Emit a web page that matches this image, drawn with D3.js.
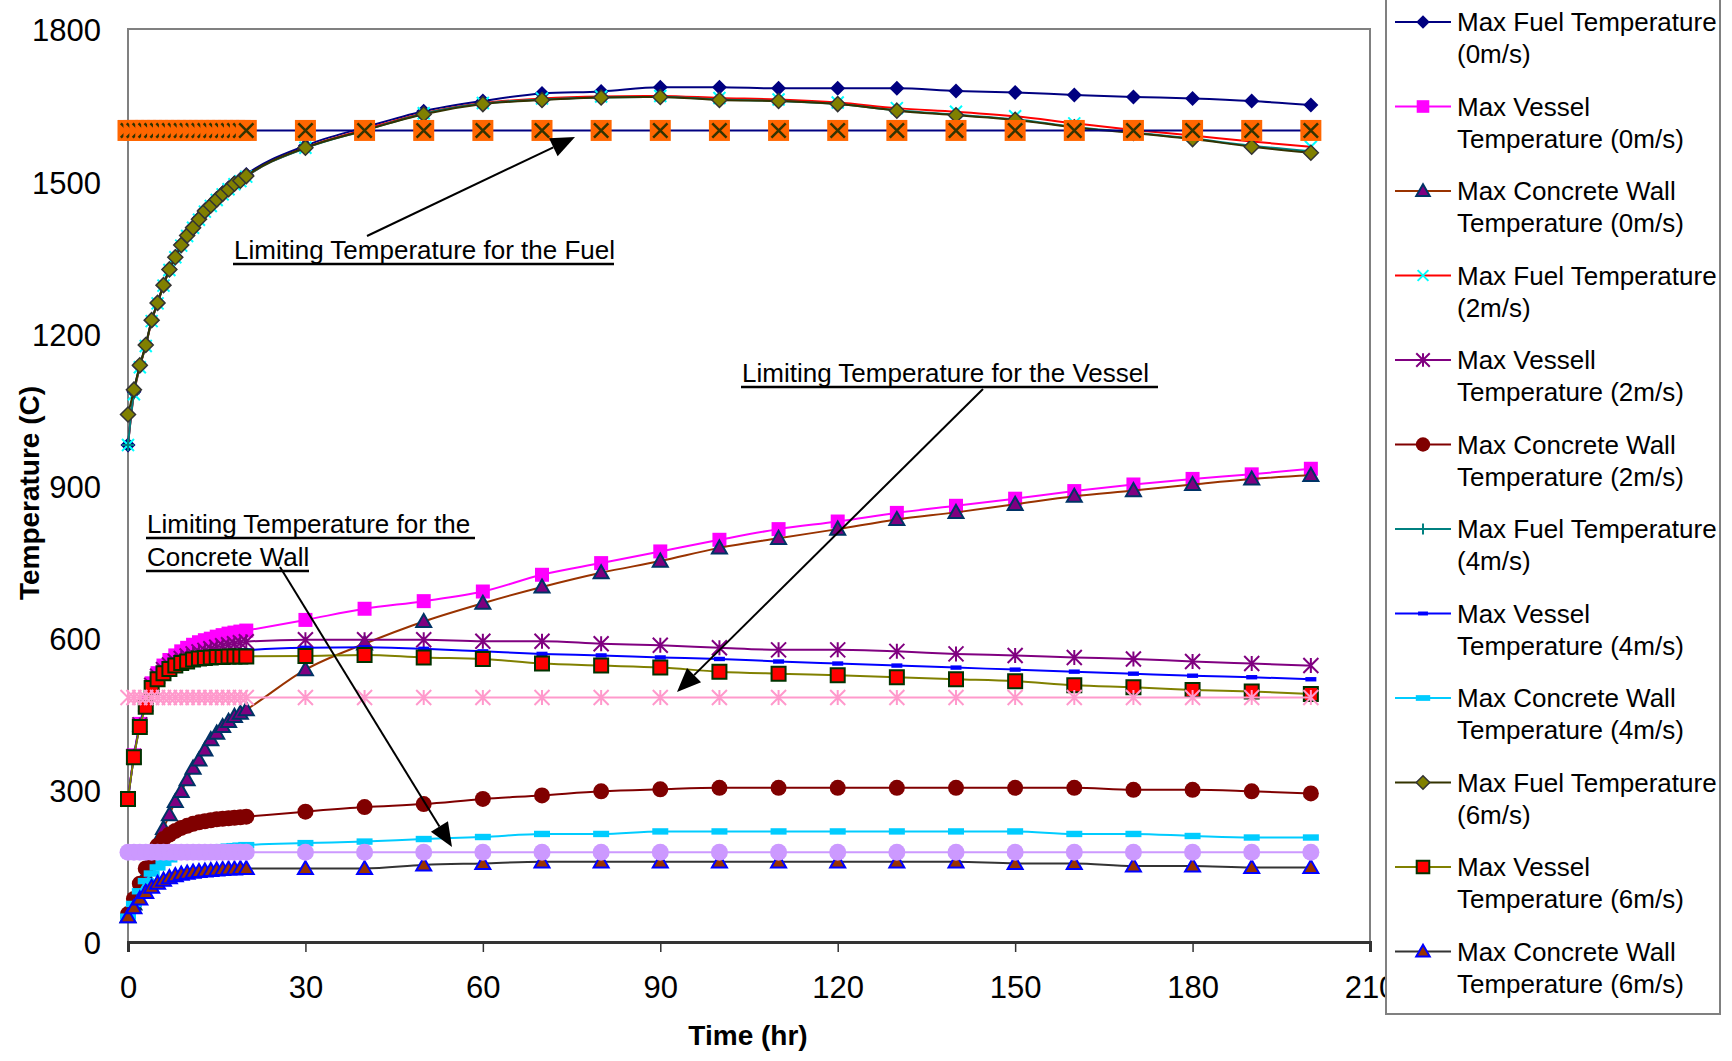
<!DOCTYPE html>
<html>
<head>
<meta charset="utf-8">
<style>
  body { margin: 0; background: #fff; }
  svg { font-family: "Liberation Sans", Arial, sans-serif; }
</style>
</head>
<body>
<svg width="1732" height="1061"></svg>
<script src="https://cdnjs.cloudflare.com/ajax/libs/d3/7.8.5/d3.min.js"></script>
<script>
// hours: 1 h steps for the first 20 h, then every 10 h
var time = [0,1,2,3,4,5,6,7,8,9,10,11,12,13,14,15,16,17,18,19,20,30,40,50,60,70,80,90,100,110,120,130,140,150,160,170,180,190,200];

var fuel0 = [980,1085,1135,1178,1226,1261,1296,1327,1351,1375,1394,1410,1427,1443,1454,1466,1477,1487,1497,1504,1513,1570,1606,1638,1658,1673,1677,1685,1685,1683,1683,1683,1678,1675,1670,1666,1663,1658,1650];
var vessel0 = [282,368,430,472,510,530,545,556,565,573,580,586,591,595,598,602,605,608,610,612,614,635,657,672,691,724,747,770,793,814,829,846,860,874,889,902,913,922,933];
var concrete0 = [50,75,102,132,165,198,224,251,277,297,320,343,359,379,399,412,425,435,445,451,458,537,588,632,668,700,728,751,777,796,814,833,847,863,879,890,902,913,920];

var fuel2 = [980,1080,1133,1175,1224,1259,1294,1325,1350,1373,1392,1408,1424,1440,1451,1463,1474,1484,1494,1500,1509,1566,1602,1634,1654,1663,1667,1668,1664,1661,1655,1644,1637,1628,1614,1601,1590,1578,1568];
var vessel2 = [282,366,428,469,506,524,537,546,553,559,564,568,572,575,578,581,584,586,588,590,592,596,596,596,593,593,588,585,580,576,576,573,568,565,561,558,553,549,545];
var concrete2 = [55,85,115,145,170,190,203,212,219,225,229,233,236,238,240,242,243,244,245,246,247,257,266,272,282,289,297,301,304,304,304,304,304,304,304,300,300,297,293];

var fuel4 = [980,1082,1134,1176,1225,1259,1294,1325,1349,1373,1392,1408,1424,1440,1451,1463,1474,1483,1494,1500,1509,1565,1600,1633,1653,1661,1665,1666,1661,1658,1652,1640,1631,1622,1607,1596,1584,1570,1559];
var vessel4 = [282,365,426,467,503,521,533,541,548,553,557,561,564,566,568,570,571,572,573,574,575,580,581,578,573,568,565,561,558,553,549,545,541,537,533,529,525,522,518];
var concrete4 = [50,75,100,120,135,147,156,163,168,172,176,179,181,183,185,186,187,188,189,190,191,195,198,203,207,213,213,218,218,218,218,218,218,218,213,213,209,206,206];

var fuel6 = [1040,1089,1137,1177,1226,1260,1295,1326,1350,1374,1393,1408,1425,1441,1452,1464,1475,1484,1495,1501,1510,1566,1600,1632,1652,1660,1665,1666,1660,1658,1652,1639,1630,1621,1606,1595,1583,1568,1556];
var vessel6 = [282,364,424,464,501,518,530,538,545,550,553,557,559,560,561,562,562,563,563,563,563,564,566,561,558,549,545,541,533,529,526,522,518,514,506,502,497,494,489];
var concrete6 = [50,68,85,98,108,116,122,127,131,134,136,138,139,140,141,142,143,144,144,145,145,145,145,152,155,158,158,158,158,158,158,158,158,155,155,150,150,147,147];

// limiting temperatures (not in the legend)
var fuelLimit = [1600,1600,1600,1600,1600,1600,1600,1600,1600,1600,1600,1600,1600,1600,1600,1600,1600,1600,1600,1600,1600,1600,1600,1600,1600,1600,1600,1600,1600,1600,1600,1600,1600,1600,1600,1600,1600,1600,1600];
var vesselLimit = [482,482,482,482,482,482,482,482,482,482,482,482,482,482,482,482,482,482,482,482,482,482,482,482,482,482,482,482,482,482,482,482,482,482,482,482,482,482,482];
var concreteLimit = [177,177,177,177,177,177,177,177,177,177,177,177,177,177,177,177,177,177,177,177,177,177,177,177,177,177,177,177,177,177,177,177,177,177,177,177,177,177,177];

var seriesNames = [
  ["Max Fuel Temperature", "(0m/s)"],
  ["Max Vessel", "Temperature (0m/s)"],
  ["Max Concrete Wall", "Temperature (0m/s)"],
  ["Max Fuel Temperature", "(2m/s)"],
  ["Max Vessell", "Temperature (2m/s)"],
  ["Max Concrete Wall", "Temperature (2m/s)"],
  ["Max Fuel Temperature", "(4m/s)"],
  ["Max Vessel", "Temperature (4m/s)"],
  ["Max Concrete Wall", "Temperature (4m/s)"],
  ["Max Fuel Temperature", "(6m/s)"],
  ["Max Vessel", "Temperature (6m/s)"],
  ["Max Concrete Wall", "Temperature (6m/s)"]
];
var seriesValues = [fuel0, vessel0, concrete0, fuel2, vessel2, concrete2, fuel4, vessel4, concrete4, fuel6, vessel6, concrete6];

var xTicks = [0, 30, 60, 90, 120, 150, 180, 210];
var yTicks = [0, 300, 600, 900, 1200, 1500, 1800];

// styles, same order as seriesValues
var styles = [
  {line: "#000080", kind: "diamond", size: 15, fill: "#000080", stroke: "none"},
  {line: "#FF00FF", kind: "square", size: 14, fill: "#FF00FF", stroke: "none"},
  {line: "#993300", kind: "triangle", size: 15, fill: "#800080", stroke: "#003366", sw: 2},
  {line: "#FF0000", kind: "x", size: 12, fill: "none", stroke: "#00FFFF", sw: 2},
  {line: "#800080", kind: "star", size: 15, fill: "none", stroke: "#800080", sw: 2},
  {line: "#800000", kind: "circle", size: 16, fill: "#800000", stroke: "none"},
  {line: "#008080", kind: "plus", size: 12, fill: "none", stroke: "#008080", sw: 2},
  {line: "#0000FF", kind: "dash", size: 11, fill: "#0000FF", stroke: "none"},
  {line: "#00CCFF", kind: "dash", size: 16, fill: "#00CCFF", stroke: "none"},
  {line: "#333300", kind: "diamond", size: 15, fill: "#808000", stroke: "#333333", sw: 1.5},
  {line: "#808000", kind: "square", size: 14, fill: "#FF0000", stroke: "#003300", sw: 2},
  {line: "#333333", kind: "triangle", size: 15, fill: "#993300", stroke: "#0000FF", sw: 2}
];
var limitValues = [fuelLimit, vesselLimit, concreteLimit];
var limitStyles = [
  {line: "#000080", kind: "boxx", size: 21, fill: "#FF6600", stroke: "#333300", sw: 2.5},
  {line: "#FF99CC", kind: "star", size: 15, fill: "none", stroke: "#FF99CC", sw: 2},
  {line: "#CC99FF", kind: "circle", size: 17, fill: "#CC99FF", stroke: "none"}
];

var svg = d3.select("svg");
var x = d3.scaleLinear().domain([0, 210]).range([128, 1370]);
var y = d3.scaleLinear().domain([0, 1800]).range([942, 29]);

function markerPath(kind, s) {
  var h = s / 2;
  switch (kind) {
    case "diamond": return "M0," + (-h) + "L" + h + ",0L0," + h + "L" + (-h) + ",0Z";
    case "square": return "M" + (-h) + "," + (-h) + "h" + s + "v" + s + "h" + (-s) + "Z";
    case "triangle": return "M0," + (-h) + "L" + h + "," + (h * 0.75) + "L" + (-h) + "," + (h * 0.75) + "Z";
    case "circle": return d3.symbol(d3.symbolCircle, Math.PI * h * h)();
    case "x": return "M" + (-h) + "," + (-h) + "L" + h + "," + h + "M" + h + "," + (-h) + "L" + (-h) + "," + h;
    case "star": return "M" + (-h) + "," + (-h) + "L" + h + "," + h + "M" + h + "," + (-h) + "L" + (-h) + "," + h + "M0," + (-h) + "V" + h;
    case "plus": return "M" + (-h) + ",0H" + h + "M0," + (-h) + "V" + h;
    case "dash": return "M" + (-h) + "," + (-s * 0.2) + "h" + s + "v" + (s * 0.4) + "h" + (-s) + "Z";
  }
}

function drawMarker(g, st, scale) {
  var s = st.size * scale;
  if (st.kind === "boxx") {
    g.append("path").attr("d", markerPath("square", s)).attr("fill", st.fill);
    g.append("path").attr("d", markerPath("x", s * 0.68)).attr("fill", "none")
      .attr("stroke", st.stroke).attr("stroke-width", st.sw);
    return;
  }
  g.append("path").attr("d", markerPath(st.kind, s))
    .attr("fill", st.fill)
    .attr("stroke", st.stroke)
    .attr("stroke-width", st.sw || 0);
}

// plot frame
svg.append("rect")
  .attr("x", x(0)).attr("y", y(1800))
  .attr("width", x(210) - x(0)).attr("height", y(0) - y(1800))
  .attr("fill", "none").attr("stroke", "#808080").attr("stroke-width", 2);

// axes
var xAxis = svg.append("g")
  .attr("transform", "translate(0," + y(0) + ")")
  .call(d3.axisBottom(x).tickValues(xTicks).tickSize(10).tickPadding(24).tickFormat(d3.format("d")));
xAxis.select(".domain").attr("stroke", "#333").attr("stroke-width", 3);
xAxis.selectAll(".tick line").attr("stroke", "#333").attr("stroke-width", 1.5);
xAxis.selectAll("text").attr("font-size", 31).attr("fill", "#000")
  .attr("font-family", "Liberation Sans, Arial, sans-serif");

var yAxis = svg.append("g")
  .attr("transform", "translate(" + x(0) + ",2)")
  .call(d3.axisLeft(y).tickValues(yTicks).tickSize(0).tickPadding(27).tickFormat(d3.format("d")));
yAxis.select(".domain").remove();
yAxis.selectAll("text").attr("font-size", 31).attr("fill", "#000")
  .attr("font-family", "Liberation Sans, Arial, sans-serif");

svg.append("text")
  .attr("transform", "translate(29,493) rotate(-90)")
  .attr("text-anchor", "middle").attr("dy", "0.35em")
  .attr("font-size", 28).attr("font-weight", "bold")
  .text("Temperature (C)");
svg.append("text")
  .attr("x", 748).attr("y", 1035)
  .attr("text-anchor", "middle").attr("dy", "0.35em")
  .attr("font-size", 28).attr("font-weight", "bold")
  .text("Time (hr)");

// series
var line = d3.line().curve(d3.curveMonotoneX);
function drawSeries(values, st) {
  var pts = time.map(function(t, i) { return [x(t), y(values[i])]; });
  var g = svg.append("g");
  g.append("path").attr("d", line(pts)).attr("fill", "none")
    .attr("stroke", st.line).attr("stroke-width", 2);
  pts.forEach(function(p) {
    var m = g.append("g").attr("transform", "translate(" + p[0] + "," + p[1] + ")");
    drawMarker(m, st, 1);
  });
}
seriesValues.forEach(function(v, i) { drawSeries(v, styles[i]); });
limitValues.forEach(function(v, i) { drawSeries(v, limitStyles[i]); });

// annotations
function arrow(x1, y1, x2, y2) {
  var a = Math.atan2(y2 - y1, x2 - x1), L = 24, W = 10;
  var bx = x2 - L * Math.cos(a), by = y2 - L * Math.sin(a);
  svg.append("line").attr("x1", x1).attr("y1", y1).attr("x2", bx).attr("y2", by)
    .attr("stroke", "#000").attr("stroke-width", 2);
  svg.append("path")
    .attr("d", "M" + x2 + "," + y2 +
      "L" + (bx + W * Math.sin(a)) + "," + (by - W * Math.cos(a)) +
      "L" + (bx - W * Math.sin(a)) + "," + (by + W * Math.cos(a)) + "Z")
    .attr("fill", "#000");
}
function note(tx, ty, text, ux2) {
  svg.append("text").attr("x", tx).attr("y", ty).attr("font-size", 26).attr("fill", "#000").text(text);
  svg.append("line").attr("x1", tx - 1).attr("x2", ux2).attr("y1", ty + 5).attr("y2", ty + 5)
    .attr("stroke", "#000").attr("stroke-width", 2.5);
}
note(234, 259, "Limiting Temperature for the Fuel", 614);
arrow(367, 236, 575, 137);
note(742, 382, "Limiting Temperature for the Vessel", 1158);
arrow(983, 389, 677, 692);
note(147, 533, "Limiting Temperature for the", 475);
note(147, 566, "Concrete Wall", 309);
arrow(280, 567, 452, 847);

// legend
var lg = svg.append("g");
lg.append("rect").attr("x", 1386).attr("y", -5).attr("width", 334).attr("height", 1019)
  .attr("fill", "#fff").attr("stroke", "#808080").attr("stroke-width", 2);
seriesNames.forEach(function(name, i) {
  var cy = 22 + i * 84.5;
  var st = styles[i];
  var g = lg.append("g").attr("transform", "translate(0," + cy + ")");
  g.append("line").attr("x1", 1395).attr("x2", 1451).attr("stroke", st.line).attr("stroke-width", 2);
  drawMarker(g.append("g").attr("transform", "translate(1423,0)"), st, 0.9);
  g.append("text").attr("x", 1457).attr("y", 0).attr("dy", "0.35em").attr("font-size", 26).text(name[0]);
  g.append("text").attr("x", 1457).attr("y", 32).attr("dy", "0.35em").attr("font-size", 26).text(name[1]);
});
</script>
</body>
</html>
